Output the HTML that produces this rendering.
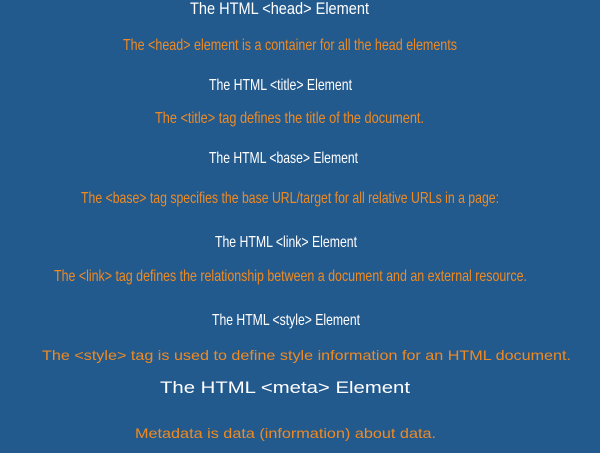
<!DOCTYPE html>
<html><head><meta charset="utf-8"><style>
html,body{margin:0;padding:0}
body{width:600px;height:453px;background:#235a8e;position:relative;overflow:hidden;font-family:"Liberation Sans",sans-serif}
.l{position:absolute;white-space:nowrap;line-height:1;transform-origin:0 50%}
.w{color:#fff}
.o{color:#ef8a22}
</style></head><body>
<div class="l w" data-x="190" data-w="179" style="top:0px;font-size:17px">The HTML &lt;head&gt; Element</div>
<div class="l o" data-x="123" data-w="334" style="top:38px;font-size:16px">The &lt;head&gt; element is a container for all the head elements</div>
<div class="l w" data-x="209" data-w="143" style="top:78px;font-size:16px">The HTML &lt;title&gt; Element</div>
<div class="l o" data-x="155" data-w="269" style="top:111px;font-size:16px">The &lt;title&gt; tag defines the title of the document.</div>
<div class="l w" data-x="209" data-w="149" style="top:151px;font-size:16px">The HTML &lt;base&gt; Element</div>
<div class="l o" data-x="81" data-w="418" style="top:191px;font-size:16px">The &lt;base&gt; tag specifies the base URL/target for all relative URLs in a page:</div>
<div class="l w" data-x="215" data-w="142" style="top:235px;font-size:16px">The HTML &lt;link&gt; Element</div>
<div class="l o" data-x="54" data-w="473" style="top:269px;font-size:16px">The &lt;link&gt; tag defines the relationship between a document and an external resource.</div>
<div class="l w" data-x="212" data-w="148" style="top:313px;font-size:16px">The HTML &lt;style&gt; Element</div>
<div class="l o" data-x="42" data-w="529" style="top:348px;font-size:14px">The &lt;style&gt; tag is used to define style information for an HTML document.</div>
<div class="l w" data-x="160" data-w="250" style="top:379px;font-size:17px">The HTML &lt;meta&gt; Element</div>
<div class="l o" data-x="135" data-w="301" style="top:426px;font-size:14px">Metadata is data (information) about data.</div>
<script>
document.querySelectorAll('.l').forEach(function(e){
  var x=+e.dataset.x,w=+e.dataset.w;
  e.style.left=x+'px';
  var r=e.getBoundingClientRect().width;
  if(r>0)e.style.transform='scaleX('+(w/r)+')';
});
</script>
</body></html>
